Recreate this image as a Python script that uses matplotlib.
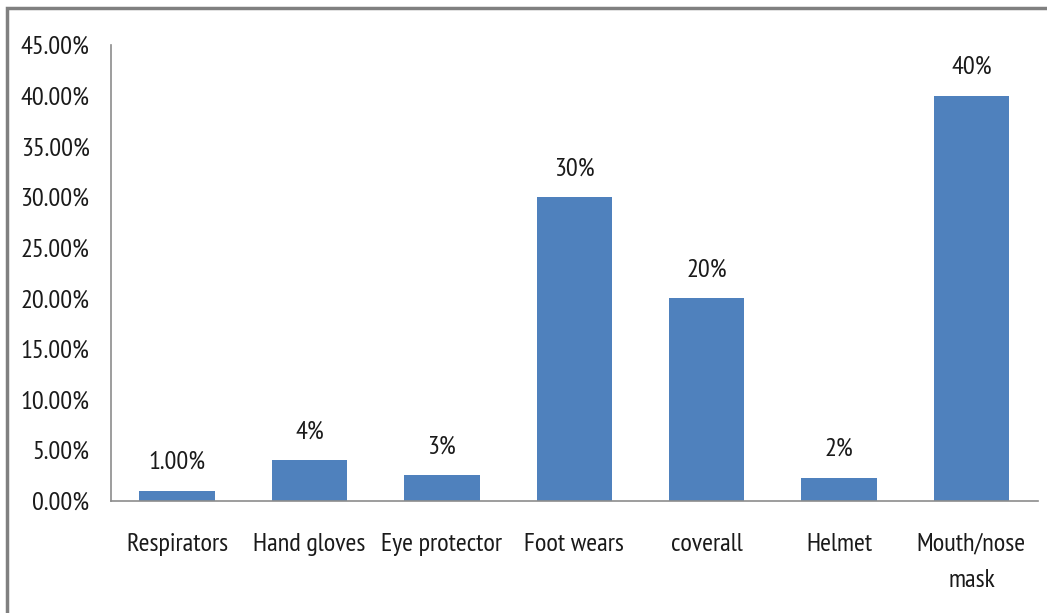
import matplotlib
matplotlib.use("Agg")
import matplotlib.pyplot as plt
from matplotlib.patches import Rectangle

categories = ["Respirators", "Hand gloves", "Eye protector", "Foot wears",
              "coverall", "Helmet", "Mouth/nose\nmask"]
values = [1.0, 4.0, 2.5, 30.0, 20.0, 2.3, 40.0]
value_labels = ["1.00%", "4%", "3%", "30%", "20%", "2%", "40%"]
yticks = [0, 5, 10, 15, 20, 25, 30, 35, 40, 45]

plt.rcParams["font.family"] = ["PT Sans Narrow", "Carlito", "DejaVu Sans"]

fig = plt.figure(figsize=(10.47, 6.13), dpi=100)
ax = fig.add_axes([0.106, 0.183, 0.885, 0.7438])

x = list(range(len(categories)))
ax.bar(x, values, width=0.57, color="#4F81BD")
for xi, v, lab in zip(x, values, value_labels):
    ax.annotate(lab, (xi, v), xytext=(0, 12), textcoords="offset points",
                ha="center", va="bottom", fontsize=19, color="#1a1a1a")

ax.set_xlim(-0.5, len(categories) - 0.5)
ax.set_ylim(0, 45)
ax.set_yticks(yticks)
ax.set_yticklabels(["%.2f%%" % t for t in yticks])
ax.set_xticks(x)
ax.set_xticklabels(categories, linespacing=1.75)
ax.tick_params(axis="both", length=0, labelsize=19, colors="#1a1a1a")
ax.tick_params(axis="x", pad=23)
ax.tick_params(axis="y", pad=15.5)

for s in ["top", "right"]:
    ax.spines[s].set_visible(False)
for s in ["left", "bottom"]:
    ax.spines[s].set_color("#8c8c8c")
    ax.spines[s].set_linewidth(1.2)

# outer chart frame
fig.patches.append(Rectangle((0.007, -0.01), 1.1, 0.997, transform=fig.transFigure,
                             fill=False, edgecolor="#808080", linewidth=2.5))

fig.savefig("out.png", dpi=100)
